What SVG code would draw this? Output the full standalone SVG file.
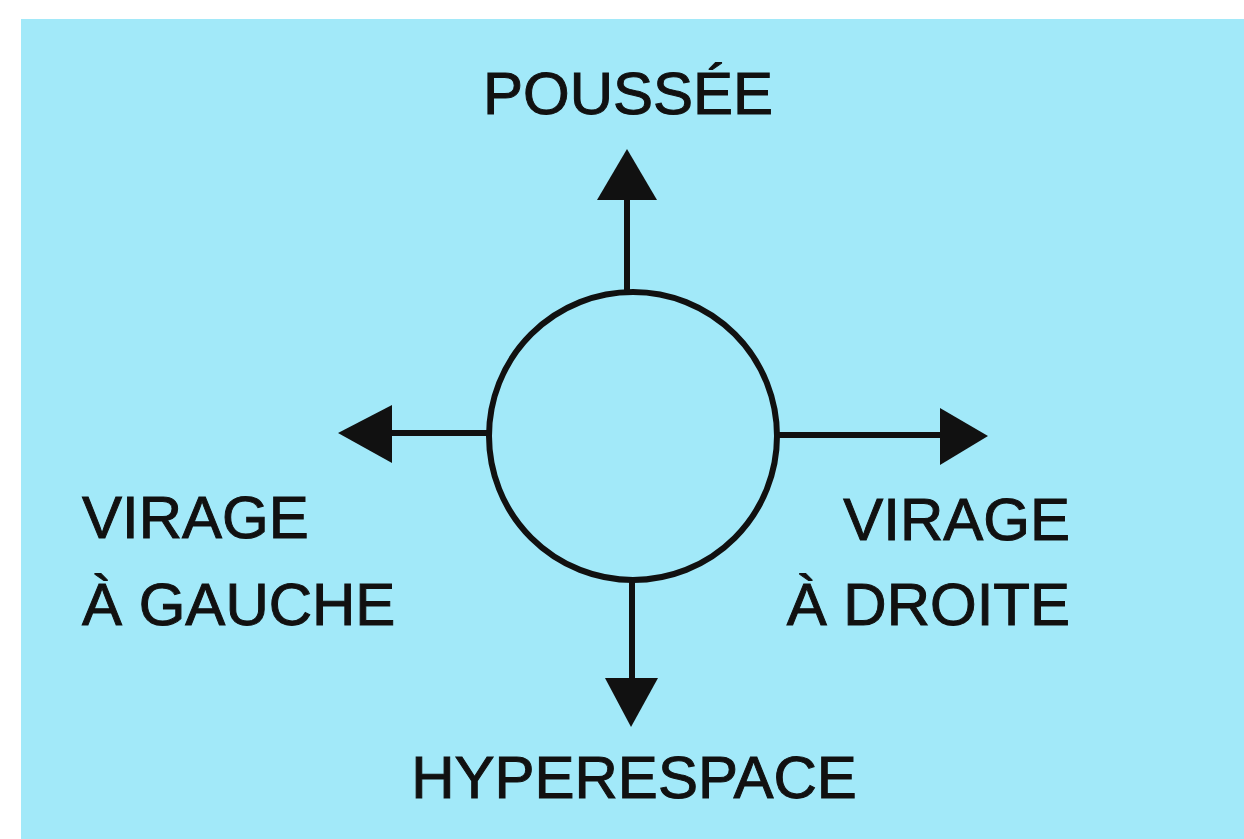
<svg xmlns="http://www.w3.org/2000/svg" width="1244" height="839" viewBox="0 0 1244 839">
<style>
.lbl{font-family:"Liberation Sans",Arial,sans-serif;font-size:60px;fill:#111;stroke:#111;stroke-width:1;}
.ln{stroke:#111;stroke-width:6;fill:none;}
.hd{fill:#111;}
</style>
<rect x="0" y="0" width="1244" height="839" fill="#ffffff"/>
<rect x="21" y="19" width="1223" height="820" fill="#a2e9f9"/>
<g id="center">
<circle cx="633" cy="436" r="144" fill="none" stroke="#111" stroke-width="6"/>
</g>
<g id="connectors">
<line class="ln" x1="627" y1="292" x2="627" y2="198"/>
<polygon class="hd" points="597,200 657,200 627,149"/>
<line class="ln" x1="489" y1="433" x2="390" y2="433"/>
<polygon class="hd" points="392,405 392,463 338,433"/>
<line class="ln" x1="777" y1="435" x2="942" y2="435"/>
<polygon class="hd" points="940,408 940,465 988,436"/>
<line class="ln" x1="632" y1="580" x2="632" y2="680"/>
<polygon class="hd" points="605,678 658,678 631,727"/>
</g>
<g id="poussee"><text class="lbl" x="628" y="114" text-anchor="middle" font-size="59">POUSSÉE</text></g>
<g id="virage-gauche">
<text class="lbl" x="82" y="538">VIRAGE</text>
<text class="lbl" x="82" y="625">À GAUCHE</text>
</g>
<g id="virage-droite">
<text class="lbl" x="1070" y="540" text-anchor="end">VIRAGE</text>
<text class="lbl" x="1070" y="625" text-anchor="end">À DROITE</text>
</g>
<g id="hyperespace"><text class="lbl" x="634" y="798" text-anchor="middle" font-size="59">HYPERESPACE</text></g>
</svg>
